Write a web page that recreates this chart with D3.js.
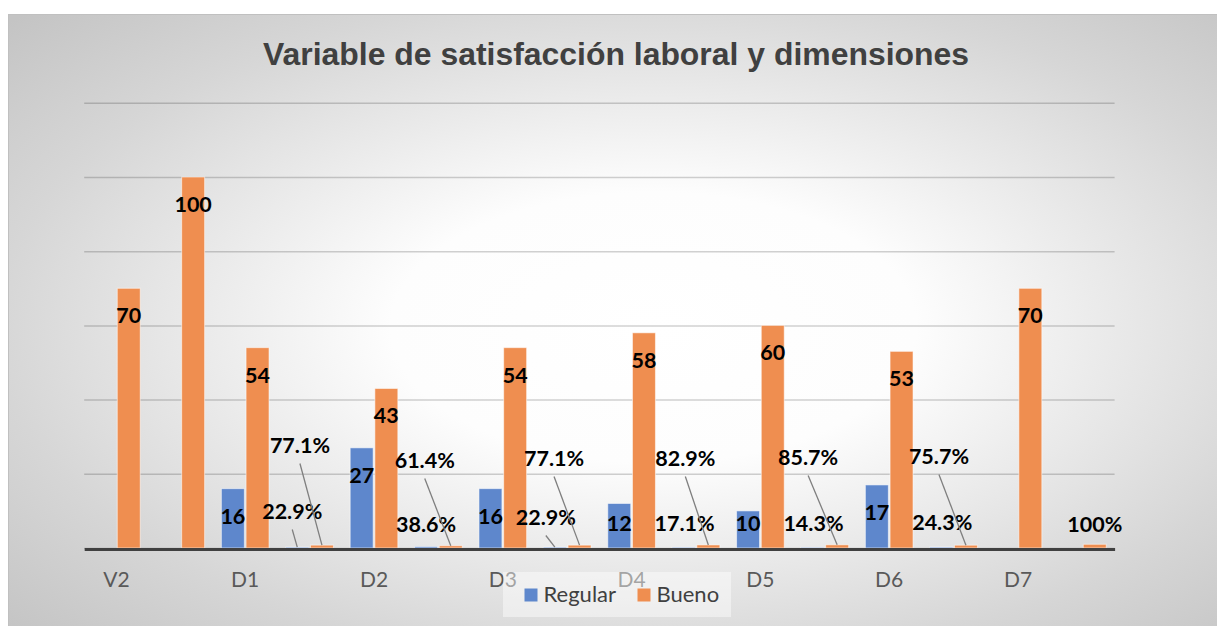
<!DOCTYPE html>
<html>
<head>
<meta charset="utf-8">
<script src="https://cdn.jsdelivr.net/npm/d3@7"></script>
<style>
  html, body { margin: 0; padding: 0; background: #ffffff; }
  svg { display: block; }
</style>
</head>
<body>
<svg id="chart" width="1217" height="626"></svg>
<script>
// ---- data ----
const categories = ["V2", "", "D1", "", "D2", "", "D3", "", "D4", "", "D5", "", "D6", "", "D7", ""];
const regular = [0, 0, 16, 0.229, 27, 0.386, 16, 0.229, 12, 0.171, 10, 0.143, 17, 0.243, 0, 0];
const bueno   = [70, 100, 54, 0.771, 43, 0.614, 54, 0.771, 58, 0.829, 60, 0.857, 53, 0.757, 70, 1];
// "n" = count label, "p" = percentage label
const valueKinds = ["n", "n", "n", "p", "n", "p", "n", "p", "n", "p", "n", "p", "n", "p", "n", "p"];
const seriesNames = ["Regular", "Bueno"];
const yTicks = [0, 20, 40, 60, 80, 100, 120];
const title = "Variable de satisfacción laboral y dimensiones";

// ---- layout of moved percentage labels (pixel offsets, styling only) ----
// dx: from bar centre; dy: baseline above zero line; leader: draw leader line
const pctLayout = {
  Regular: { 3: {dx: -5, dy: -29, leader: true}, 5: {dx: 0, dy: -16, leader: false},
             7: {dx: -9, dy: -23, leader: true}, 9: {dx: 1, dy: -17, leader: false},
             11: {dx: 1, dy: -17, leader: false}, 13: {dx: 1, dy: -18, leader: false} },
  Bueno:   { 3: {dx: -22, dy: -95, leader: true}, 5: {dx: -26, dy: -80, leader: true},
             7: {dx: -25.5, dy: -82, leader: true}, 9: {dx: -23, dy: -82, leader: true},
             11: {dx: -29, dy: -83, leader: true}, 13: {dx: -27, dy: -84, leader: true},
             15: {dx: 0, dy: -16, leader: false} }
};

const colors = { Regular: "#5E87CC", Bueno: "#EF8E50" };

const svg = d3.select("#chart");
const W = 1217, H = 626;

// background gradient
const defs = svg.append("defs");
const grad = defs.append("radialGradient").attr("id", "bg")
  .attr("cx", 0.53).attr("cy", 0.5).attr("r", 0.72);
grad.append("stop").attr("offset", 0).attr("stop-color", "#ffffff");
grad.append("stop").attr("offset", 0.3).attr("stop-color", "#fdfdfd");
grad.append("stop").attr("offset", 0.75).attr("stop-color", "#d6d6d6");
grad.append("stop").attr("offset", 1).attr("stop-color", "#c4c4c4");

svg.append("rect").attr("x", 8.5).attr("y", 14.5).attr("width", W).attr("height", H)
  .attr("fill", "url(#bg)").attr("stroke", "#c0c0c0").attr("stroke-width", 1);

// title
svg.append("text").attr("x", 616).attr("y", 65).attr("text-anchor", "middle")
  .attr("font-family", "'Liberation Sans', Arial, sans-serif").attr("font-weight", "bold")
  .attr("font-size", 31).attr("fill", "#404040")
  .attr("textLength", 706).attr("lengthAdjust", "spacingAndGlyphs")
  .text(title);

// scales
const y = d3.scaleLinear().domain([0, 120]).range([548, 548 - 120 * 3.71]);
const x = d3.scaleBand().domain(d3.range(categories.length)).range([84.2, 1114.6])
  .paddingInner(0.26).paddingOuter(0.13);
const xs = d3.scaleBand().domain(seriesNames).range([0, x.bandwidth()]).paddingInner(0.07);

// gridlines
const grid = d3.axisLeft(y).tickValues(yTicks).tickSize(-(x.range()[1] - x.range()[0])).tickFormat("");
const gg = svg.append("g").attr("transform", `translate(${x.range()[0]},0)`).call(grid);
gg.select(".domain").remove();
gg.selectAll(".tick line").attr("stroke", "#000").attr("stroke-opacity", 0.18).attr("stroke-width", 1.5);

// bars
const rows = categories.map((c, i) => ({ i, kind: valueKinds[i], Regular: regular[i], Bueno: bueno[i] }));
const bars = [];
rows.forEach(r => seriesNames.forEach(s => bars.push({ i: r.i, kind: r.kind, s, v: r[s] })));

svg.append("g").selectAll("rect").data(bars).join("rect")
  .attr("x", d => x(d.i) + xs(d.s))
  .attr("y", d => y(d.v))
  .attr("width", xs.bandwidth())
  .attr("height", d => y(0) - y(d.v))
  .attr("fill", d => colors[d.s])
  .attr("stroke", "#ffffff").attr("stroke-opacity", 0.55).attr("stroke-width", 1);

// axis
const axis = d3.axisBottom(x).tickSize(0).tickSizeOuter(0).tickFormat(i => categories[i]);
const ag = svg.append("g").attr("transform", "translate(0,549)").call(axis);
ag.select(".domain").attr("stroke", "#404040").attr("stroke-width", 3);
ag.selectAll("text").attr("y", 38).attr("dy", 0)
  .attr("font-family", "Lato, 'Open Sans', sans-serif").attr("font-size", 21).attr("fill", "#595959");

// data labels
const fmtN = d3.format("d");
const fmtP = d3.format(".3~%");
const labelFont = "Lato, 'Open Sans', sans-serif";
const lg = svg.append("g");
bars.filter(d => d.v !== 0).forEach(d => {
  const cx = x(d.i) + xs(d.s) + xs.bandwidth() / 2;
  let tx, ty, leader = false;
  if (d.kind === "n") {
    tx = cx; ty = Math.min(y(d.v) + 35, y(0) - 17.5);
  } else {
    const L = pctLayout[d.s][d.i];
    tx = cx + L.dx; ty = y(0) + L.dy; leader = L.leader;
  }
  if (leader) {
    lg.append("line").attr("x1", tx).attr("y1", ty + 10.5).attr("x2", cx).attr("y2", y(d.v))
      .attr("stroke", "#7f7f7f").attr("stroke-width", 1.3);
  }
  lg.append("text").attr("x", tx).attr("y", ty).attr("text-anchor", "middle")
    .attr("font-family", labelFont).attr("font-weight", "bold").attr("font-size", 21.5)
    .attr("fill", "#000").text(d.kind === "n" ? fmtN(d.v) : fmtP(d.v));
});

// legend
const leg = svg.append("g");
leg.append("rect").attr("x", 503).attr("y", 572).attr("width", 228).attr("height", 45)
  .attr("fill", "#ffffff").attr("fill-opacity", 0.45);
const legX = [524.5, 637.5];
seriesNames.forEach((s, k) => {
  leg.append("rect").attr("x", legX[k]).attr("y", 588.5).attr("width", 13).attr("height", 13)
    .attr("fill", colors[s]);
  leg.append("text").attr("x", legX[k] + 19).attr("y", 601.5)
    .attr("font-family", labelFont).attr("font-size", 22).attr("fill", "#404040").text(s);
});
</script>
</body>
</html>
